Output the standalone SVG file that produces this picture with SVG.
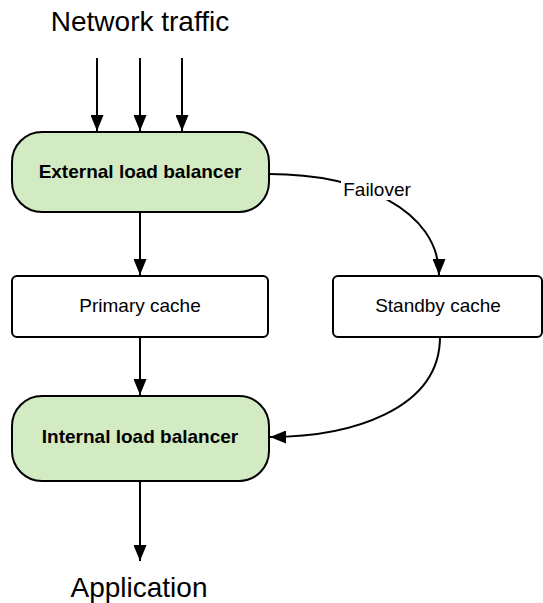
<svg xmlns="http://www.w3.org/2000/svg" width="543" height="603" viewBox="0 0 543 603">
<defs>
<style>
.lb{fill:#d3ebc3;stroke:#000;stroke-width:2}
.cache{fill:#fff;stroke:#000;stroke-width:2}
.bold{font-family:"Liberation Sans",Arial,sans-serif;font-size:19px;font-weight:bold;fill:#000;text-anchor:middle}
.reg{font-family:"Liberation Sans",Arial,sans-serif;font-size:19px;fill:#000;text-anchor:middle}
.big{font-family:"Liberation Sans",Arial,sans-serif;font-size:28px;fill:#000;text-anchor:middle}
.conn{fill:none;stroke:#000;stroke-width:2;marker-end:url(#arr)}
</style>
<marker id="arr" markerUnits="userSpaceOnUse" markerWidth="16" markerHeight="13" viewBox="0 0 16 13" refX="16" refY="6.5" orient="auto">
<path d="M0,0 L16,6.5 L0,13 Z" fill="#000"/>
</marker>
</defs>
<g id="title"><text class="big" x="140" y="31">Network traffic</text></g>
<g id="external-lb">
<rect class="lb" x="12" y="132" width="257" height="80" rx="30" ry="30"/>
<text class="bold" x="140" y="178">External load balancer</text>
</g>
<g id="primary-cache">
<rect class="cache" x="12" y="276" width="256" height="61" rx="5" ry="5"/>
<text class="reg" x="140" y="312">Primary cache</text>
</g>
<g id="standby-cache">
<rect class="cache" x="333" y="276" width="209" height="61" rx="5" ry="5"/>
<text class="reg" x="438" y="312">Standby cache</text>
</g>
<g id="internal-lb">
<rect class="lb" x="12" y="396" width="257" height="85" rx="30" ry="30"/>
<text class="bold" x="140" y="443">Internal load balancer</text>
</g>
<g id="application"><text class="big" x="139" y="597">Application</text></g>
<g id="connectors">
<path class="conn" d="M97,58 L97,131"/>
<path class="conn" d="M140,58 L140,131"/>
<path class="conn" d="M182,58 L182,131"/>
<path class="conn" d="M140,212 L140,275"/>
<path class="conn" d="M140,337 L140,395"/>
<path class="conn" d="M140,481 L140,561"/>
<path class="conn" d="M269,174 C360,174 439,210 439,275"/>
<path class="conn" d="M440,337 C440,410 350,437 270,437"/>
<rect x="341" y="178" width="72" height="22" fill="#fff"/>
<text class="reg" x="377" y="196">Failover</text>
</g>
</svg>
